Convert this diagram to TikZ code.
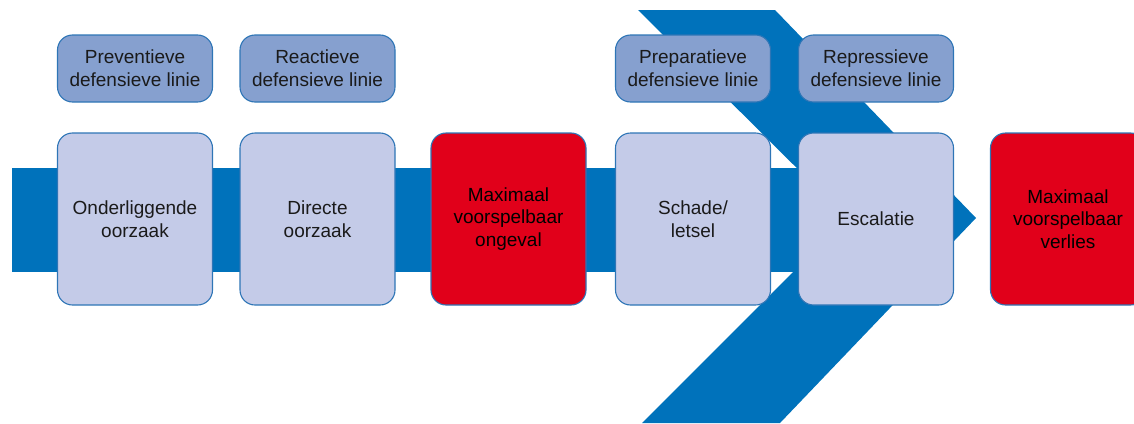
\documentclass[tikz,border=0pt]{standalone}
\usepackage{fontspec}
\setmainfont{Liberation Sans}
\definecolor{bandblue}{RGB}{0,114,187}
\definecolor{lightbox}{RGB}{196,203,232}
\definecolor{topfill}{RGB}{134,160,207}
\definecolor{redfill}{RGB}{225,0,26}
\definecolor{edge}{RGB}{46,117,182}
\definecolor{ink}{RGB}{26,26,26}
\tikzset{
  basebox/.style={draw=edge, line width=1.1pt, rounded corners=15pt, align=center,
    inner sep=0pt, text=ink, font=\fontsize{19}{22.5}\selectfont},
  bigbox/.style={basebox, fill=lightbox, minimum width=155pt, minimum height=172pt},
  redbox/.style={basebox, fill=redfill, text=black, minimum width=155pt, minimum height=172pt},
  linebox/.style={basebox, fill=topfill, minimum width=155pt, minimum height=67pt, font=\fontsize{19}{23}\selectfont},
  shape blue/.style={fill=bandblue, draw=none}
}
\begin{document}
\begin{tikzpicture}[x=1pt,y=-1pt]
\useasboundingbox (0,0) rectangle (1134,423);
% horizontal band
\fill[bandblue] (12,168) rectangle (850,272);
% chevron
\fill[bandblue] (638,10) -- (775,10) -- (976,218) -- (780,423) -- (642,423) -- (847,218) -- cycle;
% top boxes
\node[linebox] (prev) at (135,68.5) {Preventieve\\defensieve linie};
\node[linebox] (reac) at (317.5,68.5) {Reactieve\\defensieve linie};
\node[linebox] (prep) at (693,68.5) {Preparatieve\\defensieve linie};
\node[linebox] (repr) at (876,68.5) {Repressieve\\defensieve linie};
% main boxes
\node[bigbox] (b1) at (135,219) {Onderliggende\\oorzaak};
\node[bigbox] (b2) at (317.5,219) {Directe\\oorzaak};
\node[redbox] (b3) at (508.5,219) {Maximaal\\voorspelbaar\\ongeval};
\node[bigbox] (b4) at (693,219) {Schade/\\letsel};
\node[bigbox] (b5) at (876,219) {Escalatie};
\node[redbox] (b6) at (1068,219) {Maximaal\\voorspelbaar\\verlies};
\end{tikzpicture}
\end{document}
